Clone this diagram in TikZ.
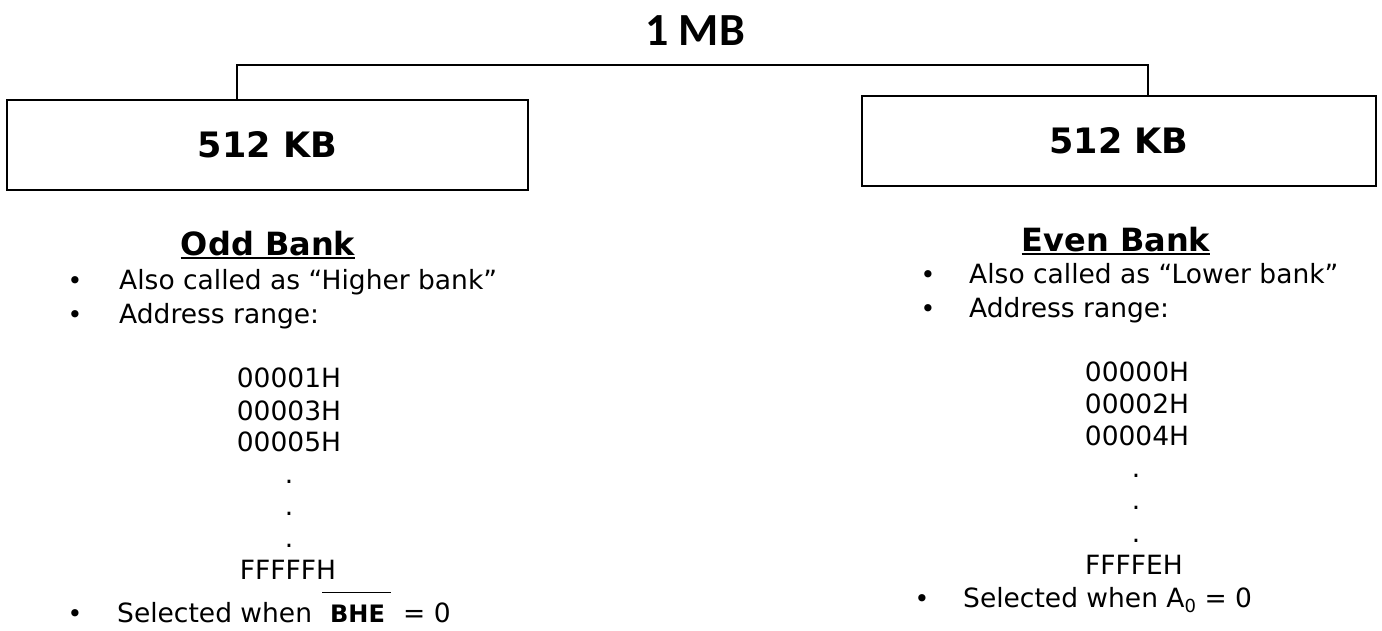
\documentclass[tikz,border=0pt]{standalone}
\usepackage{fontspec}
\setmainfont{DejaVu Sans}
\newfontfamily\headfont{Carlito}
\begin{document}
\begin{tikzpicture}[x=1pt,y=-1pt,
  wire/.style={line width=1.8pt},
  bankbox/.style={draw,line width=1.8pt,inner sep=0pt,
    font=\bfseries\fontsize{35}{40}\selectfont},
  title/.style={font=\headfont\bfseries\fontsize{46}{52}\selectfont,anchor=base,inner sep=0pt},
  banktitle/.style={font=\bfseries\fontsize{32}{36}\selectfont,anchor=base,inner sep=0pt},
  item/.style={font=\fontsize{26.5}{31}\selectfont,anchor=base west,inner sep=0pt},
  bullet/.style={font=\fontsize{25}{30}\selectfont,anchor=base,inner sep=0pt},
  addr/.style={font=\fontsize{26.5}{31}\selectfont,anchor=base,inner sep=0pt},
  rule/.style={line width=1.6pt}]
\useasboundingbox (0,0) rectangle (1382,630);

% total memory and its two banks
\node[title] (mb) at (695,45) {1 MB};
\node[bankbox,minimum width=521pt,minimum height=90pt] (odd) at (267.5,145) {512 KB};
\node[bankbox,minimum width=514pt,minimum height=90pt] (even) at (1119,141) {512 KB};
\coordinate (bus) at (695,65);
\draw[wire] ([xshift=231pt]odd.north west) |- (bus) -| ([xshift=287pt]even.north west);

% odd bank description
\node[banktitle] (oddt) at (268,255) {Odd Bank};
\draw[rule] ([yshift=-3pt]oddt.base west) -- ([yshift=-3pt]oddt.base east);
\node[bullet] (ob1) at (75,289) {•};
\node[item] (oi1) at (119,289) {Also called as “Higher bank”};
\node[bullet] (ob2) at (75,323) {•};
\node[item] (oi2) at (119,323) {Address range:};
\node[addr] (oa1) at (289,387) {00001H};
\node[addr] (oa2) at (289,420) {00003H};
\node[addr] (oa3) at (289,451) {00005H};
\node[addr] (od1) at (289,483) {.};
\node[addr] (od2) at (289,515) {.};
\node[addr] (od3) at (289,547) {.};
\node[addr] (oa4) at (288,579) {FFFFFH};
\node[bullet] (ob3) at (75,622) {•};
\node[item] (oi3) at (117,622) {Selected when};
\node[item,font=\bfseries\fontsize{24}{28}\selectfont] (bhe) at (330,622) {BHE};
\node[item] (oeq) at (403,622) {= 0};
\draw[rule] ([xshift=-8pt,yshift=12pt]bhe.north west) -- ([xshift=6pt,yshift=12pt]bhe.north east);

% even bank description
\node[banktitle] (event) at (1116,251) {Even Bank};
\draw[rule] ([yshift=-3pt]event.base west) -- ([yshift=-3pt]event.base east);
\node[bullet] (eb1) at (928,283) {•};
\node[item] (ei1) at (969,283) {Also called as “Lower bank”};
\node[bullet] (eb2) at (928,317) {•};
\node[item] (ei2) at (969,317) {Address range:};
\node[addr] (ea1) at (1137,381) {00000H};
\node[addr] (ea2) at (1137,413) {00002H};
\node[addr] (ea3) at (1137,445) {00004H};
\node[addr] (ed1) at (1136,477) {.};
\node[addr] (ed2) at (1136,509) {.};
\node[addr] (ed3) at (1136,542) {.};
\node[addr] (ea4) at (1134,574) {FFFFEH};
\node[bullet] (eb3) at (922,607) {•};
\node[item] (ei3) at (963,607) {Selected when A\raisebox{-5pt}{\fontsize{18}{18}\selectfont 0} = 0};
\end{tikzpicture}
\end{document}
